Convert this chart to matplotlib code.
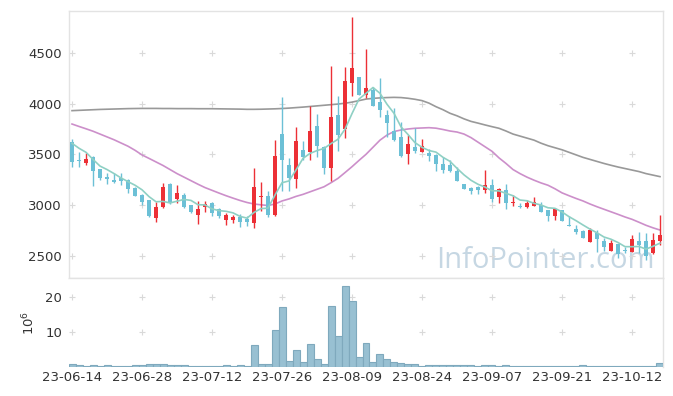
import matplotlib
matplotlib.use("Agg")
import matplotlib.pyplot as plt
import numpy as np
import pandas as pd

dates = ["23-06-14","23-06-15","23-06-16","23-06-19","23-06-20","23-06-21","23-06-22","23-06-23","23-06-26","23-06-27",
         "23-06-28","23-06-29","23-06-30","23-07-03","23-07-04","23-07-05","23-07-06","23-07-07","23-07-10","23-07-11",
         "23-07-12","23-07-13","23-07-14","23-07-17","23-07-18","23-07-19","23-07-20","23-07-21","23-07-24","23-07-25",
         "23-07-26","23-07-27","23-07-28","23-07-31","23-08-01","23-08-02","23-08-03","23-08-04","23-08-07","23-08-08",
         "23-08-09","23-08-10","23-08-11","23-08-14","23-08-16","23-08-17","23-08-18","23-08-21","23-08-22","23-08-23",
         "23-08-24","23-08-25","23-08-28","23-08-29","23-08-30","23-08-31","23-09-01","23-09-04","23-09-05","23-09-06",
         "23-09-07","23-09-08","23-09-11","23-09-12","23-09-13","23-09-14","23-09-15","23-09-18","23-09-19","23-09-20",
         "23-09-21","23-09-22","23-09-25","23-09-26","23-09-27","23-10-04","23-10-05","23-10-06","23-10-10","23-10-11",
         "23-10-12","23-10-13","23-10-16","23-10-17","23-10-18"]

opens = [3618,3444,3418,3477,3355,3280,3250,3270,3247,3168,
         3099,3049,2869,2983,3207,3059,3096,3000,2903,2977,
         3021,2957,2852,2852,2885,2862,2826,3079,3089,2905,
         3701,3395,3260,3543,3526,3780,3576,3362,3888,3747,
         4201,4260,4086,4135,4020,3888,3730,3668,3503,3569,
         3526,3516,3494,3405,3392,3336,3207,3165,3178,3148,
         3197,3076,3148,3023,2993,2983,2993,2997,2951,2895,
         2951,2803,2760,2744,2638,2727,2645,2549,2612,2556,
         2539,2645,2645,2523,2648]
highs = [3648,3526,3516,3480,3358,3319,3313,3313,3255,3175,
         3106,3052,3033,3214,3220,3194,3116,3003,3036,3037,
         3028,2970,2918,2901,2908,2892,3362,3224,3138,3642,
         4063,3461,3767,3635,3980,3895,3580,4372,4076,4359,
         4858,4265,4536,4161,4250,3938,3954,3822,3691,3763,
         3648,3550,3500,3477,3441,3378,3210,3181,3191,3346,
         3254,3165,3204,3099,3017,3049,3076,3030,2955,2967,
         2955,2892,2803,2750,2770,2753,2671,2655,2618,2589,
         2704,2737,2720,2720,2901]
lows = [3372,3372,3398,3188,3247,3204,3214,3197,3116,3085,
        3000,2879,2829,2975,3010,3023,2975,2925,2808,2932,
        2892,2869,2803,2826,2780,2796,2777,2941,2885,2895,
        3141,3141,3171,3444,3444,3477,3303,3240,3533,3658,
        4076,4085,4053,3975,3872,3674,3635,3471,3402,3516,
        3520,3437,3336,3319,3330,3237,3155,3106,3106,3122,
        3026,3017,2961,2990,2967,2967,2990,2930,2845,2852,
        2840,2796,2711,2672,2632,2533,2549,2543,2474,2523,
        2533,2529,2457,2516,2610]
closes = [3428,3430,3454,3339,3270,3257,3232,3237,3158,3092,
          3033,2895,2983,3175,3017,3118,2983,2934,2962,3008,
          2924,2895,2901,2885,2836,2836,3175,3092,2905,3484,
          3444,3263,3632,3477,3730,3582,3369,3872,3691,4227,
          4349,4089,4152,3980,3938,3812,3642,3484,3602,3536,
          3582,3484,3405,3346,3336,3240,3161,3138,3148,3197,
          3059,3155,3017,3030,2985,3023,3030,2934,2892,2957,
          2845,2798,2737,2678,2753,2665,2589,2628,2516,2549,
          2661,2602,2497,2655,2704]
# MA5 for the first four days (earlier closes are outside the window)
ma5_head = [3609,3560,3520,3450]
ma20 = [3799,3775,3752,3728,3700,3672,3644,3612,3580,3540,
        3494,3460,3425,3390,3350,3310,3275,3240,3205,3172,
        3145,3118,3092,3068,3045,3025,3010,3002,2995,3010,
        3040,3060,3085,3105,3130,3155,3180,3220,3263,3320,
        3378,3440,3500,3570,3640,3690,3725,3740,3750,3757,
        3760,3763,3758,3745,3730,3720,3700,3665,3620,3575,
        3530,3465,3410,3350,3310,3275,3245,3218,3195,3160,
        3120,3092,3065,3040,3010,2983,2958,2933,2908,2882,
        2859,2830,2800,2775,2753]
ma_long = [3931,3934,3937,3940,3943,3945,3947,3949,3951,3952,
           3953,3953,3953,3952,3952,3951,3951,3951,3950,3950,
           3950,3949,3948,3947,3946,3944,3944,3945,3947,3949,
           3952,3956,3961,3966,3972,3978,3984,3990,3996,4004,
           4015,4030,4045,4052,4057,4060,4062,4060,4053,4043,
           4030,4005,3970,3940,3905,3880,3850,3825,3808,3790,
           3773,3757,3730,3700,3680,3660,3640,3610,3585,3565,
           3545,3520,3495,3470,3450,3430,3410,3392,3375,3360,
           3345,3330,3310,3295,3280]
volume = [1.0,0.57,0.3,0.57,0.3,0.57,0.3,0.3,0.3,0.57,
          0.57,1.0,1.0,0.8,0.57,0.57,0.57,0.3,0.3,0.3,
          0.3,0.3,0.57,0.3,0.57,0.3,6.3,1.0,0.8,10.6,
          17.1,1.7,4.9,1.4,6.6,2.3,1.0,17.4,8.9,23.1,
          18.9,2.9,6.9,1.4,3.7,2.3,1.4,1.1,0.8,0.8,
          0.3,0.57,0.57,0.57,0.57,0.57,0.57,0.57,0.3,0.57,
          0.57,0.3,0.57,0.3,0.3,0.3,0.15,0.3,0.3,0.3,
          0.3,0.3,0.3,0.57,0.3,0.3,0.3,0.3,0.3,0.15,
          0.3,0.15,0.3,0.3,1.1]
price_ticks = [2500, 3000, 3500, 4000, 4500]
vol_ticks = [10, 20]

UP = "#ec3036"
DOWN = "#6cc0d6"
GRID = "#d9d9d9"
FRAME = "#e3e3e3"
TXT = "#333333"

n = len(dates)
x = np.arange(n)
o = np.array(opens); h = np.array(highs); l = np.array(lows); c = np.array(closes)
ma5 = pd.Series(closes).rolling(5).mean().to_numpy()
ma5[:4] = ma5_head

fig = plt.figure(figsize=(6.73, 3.96), dpi=100)
W, H = 673, 396
L, R = 69, 663
ax = fig.add_axes([L / W, 1 - 278 / H, (R - L) / W, (278 - 10.7) / H])
axv = fig.add_axes([L / W, 1 - 367 / H, (R - L) / W, (367 - 278) / H])

xlim = (-0.43, n - 1 + 0.43)

# watermark, behind the candles
ax.text(545 / W, 1 - 268 / H, "InfoPointer.com", fontsize=21, color="#c6d7e3",
        ha="center", va="baseline", family="Open Sans", zorder=0.5,
        transform=fig.transFigure, clip_on=False)

up = c >= o
colors = np.where(up, UP, DOWN)
ax.vlines(x, l, h, colors=colors, linewidth=1.0, zorder=3)
small = np.abs(c - o) < 6
bottom = np.minimum(o, c) - np.where(small, 3, 0)
height = np.maximum(np.abs(c - o), 6)
ax.bar(x, height, bottom=bottom, width=0.7, color=colors, linewidth=0, zorder=4)

ax.plot(x, ma_long, color="#999999", linewidth=1.2, zorder=2)
ax.plot(x, ma20, color="#cc8fca", linewidth=1.2, zorder=2)
ax.plot(x, ma5, color="#8fd0c4", linewidth=1.2, zorder=5)

ax.set_xlim(*xlim)
ax.set_ylim(2280, 4917)
ax.set_yticks(price_ticks)
ax.set_yticklabels([str(t) for t in price_ticks])
tick_idx = list(range(0, n, 10))
ax.set_xticks(tick_idx)
ax.tick_params(axis="x", labelbottom=False, length=0)
ax.tick_params(axis="y", length=0, pad=5, labelsize=9.5, labelcolor=TXT)
gx, gy = np.meshgrid(tick_idx, price_ticks)
ax.scatter(gx.ravel(), gy.ravel(), marker="+", s=22, color=GRID, linewidths=0.8, zorder=1)
for s in ax.spines.values():
    s.set_color(FRAME)
    s.set_linewidth(1.0)

# volume
axv.bar(x, volume, width=1.0, color="#98c0d2", edgecolor="#7fa9bd", linewidth=0.8, zorder=3)
axv.set_xlim(*xlim)
axv.set_ylim(0, 25.5)
axv.set_yticks(vol_ticks)
axv.set_yticklabels([str(t) for t in vol_ticks])
axv.set_xticks(tick_idx)
axv.set_xticklabels([dates[i] for i in tick_idx])
axv.tick_params(axis="both", length=0, labelsize=9.5, labelcolor=TXT)
axv.tick_params(axis="y", pad=5)
axv.tick_params(axis="x", pad=3)
gx, gy = np.meshgrid(tick_idx, vol_ticks)
axv.scatter(gx.ravel(), gy.ravel(), marker="+", s=22, color=GRID, linewidths=0.8, zorder=1)
for k, s in axv.spines.items():
    s.set_color(FRAME)
    s.set_linewidth(1.0)
axv.spines["left"].set_visible(False)
axv.spines["bottom"].set_visible(False)
axv.set_ylabel("$10^6$", fontsize=9.5, color=TXT, labelpad=6)

fig.savefig("out.png", dpi=100)
